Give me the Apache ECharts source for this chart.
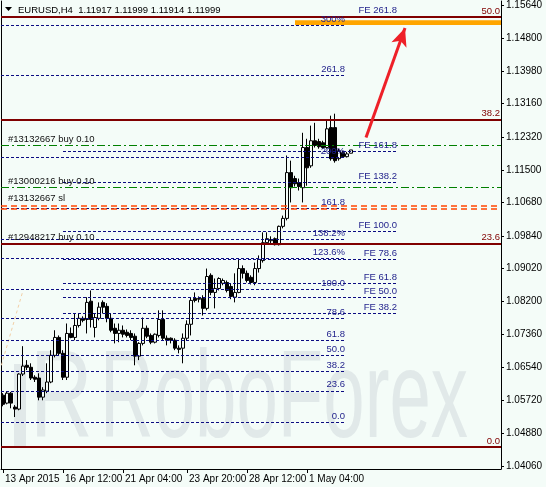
<!DOCTYPE html>
<html><head><meta charset="utf-8">
<script src="https://cdn.jsdelivr.net/npm/echarts@6/dist/echarts.min.js"></script>
<style>html,body{margin:0;padding:0;background:#f4fcf8}#c{width:546px;height:487px}</style>
</head><body><div id="c"></div><script>
const symbolName = 'EURUSD,H4';
// H4 bars: [open, close, low, high]
const candles = [
[1.0584,1.0561,1.0556,1.0589],[1.0564,1.0589,1.0561,1.0594],[1.0589,1.0564,1.0551,1.0592],[1.0554,1.0549,1.0529,1.0559],
[1.0549,1.0637,1.0546,1.0639],[1.0637,1.0657,1.0632,1.0707],[1.0659,1.0654,1.0647,1.0672],[1.0654,1.0627,1.0622,1.0664],
[1.0629,1.0624,1.0617,1.0634],[1.0627,1.0579,1.0571,1.0639],[1.0579,1.0597,1.0571,1.0604],[1.0594,1.0617,1.0589,1.0664],
[1.0617,1.0684,1.0614,1.0697],[1.0684,1.0729,1.0679,1.0747],[1.0729,1.0689,1.0684,1.0734],[1.0689,1.0629,1.0622,1.0697],
[1.0629,1.0739,1.0622,1.0764],[1.0739,1.0729,1.0727,1.0754],[1.0729,1.0759,1.0722,1.0789],[1.0759,1.0777,1.0754,1.0789],
[1.0777,1.0772,1.0767,1.0782],[1.0774,1.0817,1.0739,1.0830],[1.0820,1.0774,1.0754,1.0847],[1.0754,1.0779,1.0729,1.0789],
[1.0777,1.0805,1.0772,1.0817],[1.0817,1.0805,1.0789,1.0822],[1.0807,1.0777,1.0767,1.0815],[1.0777,1.0747,1.0742,1.0789],
[1.0752,1.0739,1.0714,1.0764],[1.0739,1.0747,1.0717,1.0764],[1.0747,1.0737,1.0729,1.0759],[1.0742,1.0734,1.0729,1.0749],
[1.0739,1.0729,1.0722,1.0747],[1.0732,1.0682,1.0659,1.0739],[1.0682,1.0714,1.0672,1.0717],[1.0714,1.0752,1.0709,1.0779],
[1.0752,1.0732,1.0727,1.0759],[1.0734,1.0717,1.0712,1.0739],[1.0717,1.0737,1.0714,1.0739],[1.0734,1.0774,1.0729,1.0797],
[1.0774,1.0727,1.0722,1.0797],[1.0727,1.0722,1.0709,1.0734],[1.0727,1.0722,1.0714,1.0729],[1.0722,1.0702,1.0697,1.0727],
[1.0702,1.0699,1.0689,1.0709],[1.0702,1.0727,1.0664,1.0739],[1.0727,1.0762,1.0722,1.0772],[1.0762,1.0822,1.0734,1.0830],
[1.0827,1.0822,1.0817,1.0842],[1.0825,1.0827,1.0817,1.0832],[1.0827,1.0802,1.0784,1.0835],[1.0802,1.0882,1.0797,1.0902],
[1.0885,1.0842,1.0835,1.0890],[1.0842,1.0852,1.0802,1.0877],[1.0852,1.0877,1.0847,1.0880],[1.0865,1.0872,1.0860,1.0877],
[1.0867,1.0847,1.0842,1.0872],[1.0857,1.0832,1.0825,1.0865],[1.0830,1.0842,1.0817,1.0890],[1.0842,1.0902,1.0840,1.0927],
[1.0902,1.0890,1.0877,1.0910],[1.0890,1.0872,1.0867,1.0897],[1.0880,1.0867,1.0862,1.0885],[1.0867,1.0902,1.0860,1.0917],
[1.0902,1.0925,1.0892,1.0935],[1.0922,1.0967,1.0917,1.0993],[1.0967,1.0977,1.0965,1.0993],[1.0972,1.0975,1.0965,1.0983],
[1.0977,1.0962,1.0960,1.0980],[1.0962,1.1008,1.0960,1.1010],[1.1008,1.1028,1.1003,1.1035],[1.1028,1.1143,1.1023,1.1186],
[1.1143,1.1105,1.1068,1.1173],[1.1128,1.1115,1.1108,1.1135],[1.1118,1.1108,1.1098,1.1128],[1.1105,1.1206,1.1068,1.1243],
[1.1206,1.1155,1.1110,1.1228],[1.1160,1.1223,1.1155,1.1261],[1.1223,1.1211,1.1206,1.1268],[1.1221,1.1208,1.1203,1.1228],
[1.1218,1.1206,1.1203,1.1223],[1.1206,1.1253,1.1203,1.1273],[1.1256,1.1178,1.1173,1.1286],[1.1256,1.1173,1.1168,1.1291],
[1.1178,1.1198,1.1173,1.1203],[1.1193,1.1183,1.1181,1.1198],[1.1183,1.1190,1.1181,1.1195],[1.11917,1.11999,1.11914,1.11999]
];
const timeLabels = ['13 Apr 2015','16 Apr 12:00','21 Apr 04:00','23 Apr 20:00','28 Apr 12:00','1 May 04:00'];
const timeLabelBars = [0,15,30,46,61,76];
const priceTicks = [1.15640,1.14800,1.13980,1.13160,1.12320,1.11500,1.10680,1.09840,1.09020,1.08200,1.07360,1.06540,1.05720,1.04880,1.04060];
const priceMin = 1.03985, priceMax = 1.15740;
const lastPrice = 1.11999;

// Fibonacci retracement (solid, dark red, full width)
const fiboLabels = ['50.0','38.2','23.6','0.0'];
const fiboPrices = [1.1534,1.1276,1.0965,1.0454];
// Second Fibonacci (dashed navy)
const fibo2Labels = ['0.0','23.6','38.2','50.0','61.8','78.6','100.0','123.6%','138.2%','161.8','200%','261.8','300%'];
const fibo2Prices = [1.0516,1.0595,1.0643,1.0683,1.0722,1.0778,1.0849,1.0927,1.0976,1.1054,1.1181,1.1387,1.1514];
const fibo2Bars = [-0.5, 85.75];
// Fibonacci expansion
const feLabels = ['FE 38.2','FE 50.0','FE 61.8','FE 78.6','FE 100.0','FE 138.2','FE 161.8','FE 261.8'];
const fePrices = [1.0790,1.0829,1.0865,1.0925,1.0996,1.1119,1.1196,1.1535];
const feBars = [15, 98.5];
// Orders
const orderLabels = ['#13132667 buy 0.10','#13000216 buy 0.10','#12948217 buy 0.10'];
const orderPrices = [1.1211,1.1105,1.0965];
const slLabel = '#13132667 sl';
const slPrices = [1.1060,1.1052];
// Target zone and arrow
const targetZone = {bars:[73,124.5], prices:[1.1526,1.1514]};
const arrowFrom = [90.75, 1.1231], arrowTo = [100.5, 1.1506];
const trendFrom = [-0.4, 1.0659], trendTo = [5, 1.0847];

const BG = '#f4fcf8';
const NAVY = '#0c0c82', NAVYTXT = '#1e1e8a', DRED = '#800000', GREEN = '#008000';
const FONT = 'Liberation Sans';
const WM = '#e1e9e9';
const nSlots = 125;
const slots = Array.from({length:nSlots}, (_, i) => String(i));
const lastBar = candles[candles.length-1];

function hline(x1, x2, price, color, type, width, text, pos, dist, tcolor) {
  return [
    {coord:[x1, price], lineStyle:{color, type, width},
     label:{show:!!text, formatter:text||'', position:pos||'insideEndTop', distance:dist||[1,1],
            color:tcolor||color, fontSize:9.5, fontFamily:FONT}},
    {coord:[x2, price]}
  ];
}
const lines = [];
lines.push([{coord:[trendFrom[0],trendFrom[1]], lineStyle:{color:'#f2cfa6', type:[3,3], width:1}, label:{show:false}},{coord:trendTo}]);
fibo2Labels.forEach((t,i)=>lines.push(hline(fibo2Bars[0],fibo2Bars[1],fibo2Prices[i],NAVY,[3,2],1,t,'insideEndTop',[1,1],NAVYTXT)));
feLabels.forEach((t,i)=>lines.push(hline(feBars[0],feBars[1],fePrices[i],NAVY,[3,2],1,t,'insideEndTop',[0,1],NAVYTXT)));
orderLabels.forEach((t,i)=>lines.push(hline(-0.5,124.5,orderPrices[i],GREEN,[8,3,2,3],1,t,'insideStartTop',[7,1],'#111')));
slPrices.forEach((p,i)=>lines.push(hline(-0.5,124.5,p,'#ff4500',[6,4],1.5,i===0?slLabel:'','insideStartTop',[7,2],'#111')));
fiboLabels.forEach((t,i)=>lines.push(hline(-0.5,124.5,fiboPrices[i],DRED,'solid',2,t,'insideEndTop',[1,1],DRED)));

const option = {
  backgroundColor: BG,
  animation: false,
  textStyle: {fontFamily: FONT},
  grid: {left:1, top:0, width:500, height:469, containLabel:false},
  xAxis: [
    {type:'category', data:slots, boundaryGap:true, gridIndex:0,
     axisLine:{show:true, lineStyle:{color:'#000', width:1}},
     axisTick:{show:true, alignWithLabel:true, length:4, interval:(i)=>timeLabelBars.includes(i), lineStyle:{color:'#000'}},
     axisLabel:{show:true, interval:(i)=>timeLabelBars.includes(i), align:'left', margin:5, padding:[0,0,0,2],
       color:'#000', fontSize:10, fontFamily:FONT,
       formatter:(v,i)=>{const k=timeLabelBars.indexOf(i); return k>=0?timeLabels[k]:'';}},
     splitLine:{show:false}},
    {type:'value', min:-0.5, max:nSlots-0.5, show:false, gridIndex:0}
  ],
  yAxis: [
    {type:'value', position:'right', min:priceMin, max:priceMax, scale:true,
     axisLine:{show:true, onZero:false, lineStyle:{color:'#000'}},
     axisTick:{show:true, length:3, customValues:priceTicks, lineStyle:{color:'#000'}},
     axisLabel:{show:true, customValues:priceTicks, margin:5, color:'#000', fontSize:10, fontFamily:FONT,
       formatter:(v)=>v.toFixed(5)},
     splitLine:{show:false}},
    {type:'value', position:'left', min:priceMin, max:priceMax,
     axisLine:{show:true, onZero:false, lineStyle:{color:'#000'}}, axisTick:{show:false}, axisLabel:{show:false}, splitLine:{show:false}}
  ],
  graphic: [
    {type:'group', z:0, silent:true, children:[
      {type:'rect', shape:{x:14, y:364, width:12, height:84}, style:{fill:WM}},
      {type:'text', x:30, y:403, scaleX:0.7, style:{text:'R', font:'124px "Liberation Sans"', fill:WM, verticalAlign:'middle'}},
      {type:'text', x:100, y:403, scaleX:0.6, style:{text:'RoboForex', font:'124px "Liberation Sans"', fill:WM, verticalAlign:'middle'}}
    ]},
    {type:'polygon', z:100, shape:{points:[[5,7],[12,7],[8.5,11]]}, style:{fill:'#000'}},
    {type:'text', z:100, x:18, y:10, style:{text:symbolName+'  '+[lastBar[0],lastBar[3],lastBar[2],lastBar[1]].map(v=>v.toFixed(5)).join(' '),
      font:'9.5px "Liberation Sans"', fill:'#000', verticalAlign:'middle'}}
  ],
  series: [
    {type:'candlestick', xAxisIndex:0, yAxisIndex:0, data:candles, barWidth:3, z:2,
     itemStyle:{color:BG, color0:'#000', borderColor:'#000', borderColor0:'#000', borderWidth:1},
     emphasis:{disabled:true}},
    {type:'line', xAxisIndex:1, yAxisIndex:0, data:[], z:3, silent:true,
     markArea:{silent:true, data:[[{coord:[targetZone.bars[0],targetZone.prices[0]], itemStyle:{color:'#ffa500'}},{coord:[targetZone.bars[1],targetZone.prices[1]]}]]}},
    {type:'line', xAxisIndex:1, yAxisIndex:0, data:[], z:5, silent:true,
     markLine:{silent:true, symbol:['none','none'], animation:false, data:lines}},
    {type:'line', xAxisIndex:1, yAxisIndex:0, data:[], z:6, silent:true,
     markLine:{silent:true, symbol:['none','arrow'], symbolSize:[12,18], animation:false,
       data:[
         [{coord:arrowFrom, lineStyle:{color:'#ee2028', width:3, type:'solid'}, label:{show:false}},{coord:arrowTo}],
         [{yAxis:lastPrice, symbol:'none', lineStyle:{opacity:0}, label:{show:true, position:'end', formatter:lastPrice.toFixed(5),
            backgroundColor:'#000', color:'#fff', padding:[2,4,1,4], distance:2, fontSize:10, fontFamily:FONT}}, {yAxis:lastPrice, symbol:'none'}]
       ]}}
  ]
};
const chart = echarts.init(document.getElementById('c'));
chart.setOption(option);
</script></body></html>
